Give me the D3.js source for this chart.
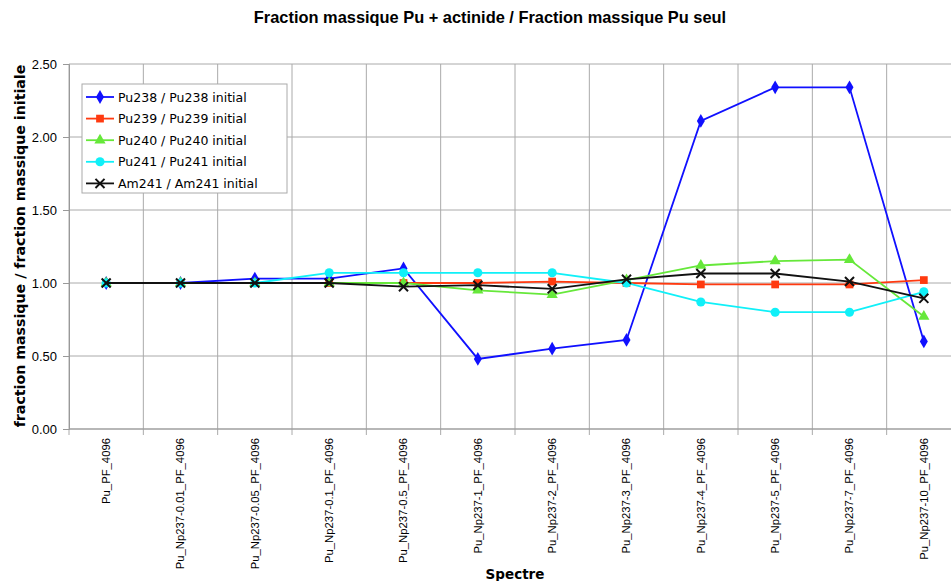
<!DOCTYPE html>
<html><head><meta charset="utf-8">
<script src="https://cdn.jsdelivr.net/npm/d3@7"></script>
<style>body{margin:0;background:#fff}svg{display:block}</style>
</head><body>
<svg id="c" width="951" height="581"></svg>
<script>
const categories = ["Pu_PF_4096","Pu_Np237-0.01_PF_4096","Pu_Np237-0.05_PF_4096","Pu_Np237-0.1_PF_4096","Pu_Np237-0.5_PF_4096","Pu_Np237-1_PF_4096","Pu_Np237-2_PF_4096","Pu_Np237-3_PF_4096","Pu_Np237-4_PF_4096","Pu_Np237-5_PF_4096","Pu_Np237-7_PF_4096","Pu_Np237-10_PF_4096"];
const pu238 = [1.00,1.00,1.03,1.03,1.10,0.48,0.55,0.61,2.11,2.34,2.34,0.60];
const pu239 = [1.00,1.00,1.00,1.00,1.00,1.00,1.01,1.00,0.99,0.99,0.99,1.02];
const pu240 = [1.00,1.00,1.00,1.00,1.00,0.95,0.92,1.02,1.12,1.15,1.16,0.77];
const pu241 = [1.00,1.00,1.00,1.07,1.07,1.07,1.07,1.00,0.87,0.80,0.80,0.94];
const am241 = [1.00,1.00,1.00,1.00,0.975,0.985,0.96,1.025,1.065,1.065,1.01,0.895];
const yTicks = [0,0.5,1,1.5,2,2.5];
const seriesNames = ["Pu238 / Pu238 initial","Pu239 / Pu239 initial","Pu240 / Pu240 initial","Pu241 / Pu241 initial","Am241 / Am241 initial"];

const series = [
  {name:seriesNames[0], values:pu238, color:"#1010ff", sym:d3.symbolDiamond, size:55},
  {name:seriesNames[1], values:pu239, color:"#ff3a10", sym:d3.symbolSquare, size:60},
  {name:seriesNames[2], values:pu240, color:"#66e83a", sym:d3.symbolTriangle, size:55},
  {name:seriesNames[3], values:pu241, color:"#10f0f8", sym:d3.symbolCircle, size:65},
  {name:seriesNames[4], values:am241, color:"#111111", sym:d3.symbolX, size:55}
];

const svg = d3.select("#c");
const L=69, R=961, T=64, B=429;
const x = d3.scaleBand().domain(categories).range([L,R]);
const y = d3.scaleLinear().domain([0,2.5]).range([B,T]);
const cx = d => x(d)+x.bandwidth()/2;

// grid
const g = svg.append("g");
g.selectAll(".hg").data(yTicks).join("line")
  .attr("x1",L).attr("x2",R).attr("y1",d=>y(d)).attr("y2",d=>y(d))
  .attr("stroke","#aaa").attr("stroke-width",1);
const bounds = categories.map(c=>x(c)).concat([R]);
g.selectAll(".vg").data(bounds).join("line")
  .attr("x1",d=>d).attr("x2",d=>d).attr("y1",T).attr("y2",B+6)
  .attr("stroke","#aaa").attr("stroke-width",1);
// axes
const ya = svg.append("g").attr("transform",`translate(${L},0)`)
  .call(d3.axisLeft(y).tickValues(yTicks).tickFormat(d3.format(".2f")).tickSize(6));
ya.select(".domain").attr("stroke","#999");
ya.selectAll(".tick line").attr("stroke","#999");
ya.selectAll("text").attr("font-family","Liberation Sans").attr("font-size",13).attr("fill","#000").attr("x",-12);

svg.append("line").attr("x1",L).attr("x2",R).attr("y1",B).attr("y2",B).attr("stroke","#999");

const xa = svg.append("g").attr("transform",`translate(0,${B})`)
  .call(d3.axisBottom(x).tickSize(0));
xa.select(".domain").remove();
xa.selectAll("text").attr("font-family","Liberation Sans").attr("font-size",11.3).attr("fill","#000")
  .attr("transform","rotate(-90)").attr("text-anchor","end").attr("x",-9).attr("y",0).attr("dy","0.35em");

// series
const line = d3.line().x((d,i)=>cx(categories[i])).y(d=>y(d));
series.forEach(s=>{
  svg.append("path").datum(s.values).attr("d",line).attr("fill","none")
    .attr("stroke",s.color).attr("stroke-width",1.8);
  svg.selectAll(null).data(s.values).join("path")
    .attr("d",d3.symbol().type(s.sym).size(s.size))
    .attr("transform",(d,i)=>`translate(${cx(categories[i])},${y(d)})`)
    .attr("fill",s.sym===d3.symbolX?"none":s.color)
    .attr("stroke",s.sym===d3.symbolX?s.color:"none").attr("stroke-width",2);
});

// legend
const lg = svg.append("g");
lg.append("rect").attr("x",82).attr("y",84).attr("width",205).attr("height",109)
  .attr("fill","#fff").attr("stroke","#aaa");
series.forEach((s,i)=>{
  const yy = 97 + i*21.6;
  lg.append("line").attr("x1",86).attr("x2",114).attr("y1",yy).attr("y2",yy).attr("stroke",s.color).attr("stroke-width",1.8);
  lg.append("path").attr("d",d3.symbol().type(s.sym).size(s.size)).attr("transform",`translate(100,${yy})`)
    .attr("fill",s.sym===d3.symbolX?"none":s.color)
    .attr("stroke",s.sym===d3.symbolX?s.color:"none").attr("stroke-width",2);
  lg.append("text").attr("x",118).attr("y",yy).attr("dy","0.36em")
    .attr("font-family","DejaVu Sans").attr("font-size",12.5).text(s.name);
});

// titles
svg.append("text").attr("x",490).attr("y",23).attr("text-anchor","middle")
  .attr("font-family","Liberation Sans").attr("font-weight","bold").attr("font-size",16.4)
  .text("Fraction massique Pu + actinide / Fraction massique Pu seul");
svg.append("text").attr("transform","translate(25,246) rotate(-90)").attr("text-anchor","middle")
  .attr("font-family","DejaVu Sans").attr("font-weight","bold").attr("font-size",14.2)
  .text("fraction massique / fraction massique initiale");
svg.append("text").attr("x",515).attr("y",579).attr("text-anchor","middle")
  .attr("font-family","DejaVu Sans").attr("font-weight","bold").attr("font-size",13.5)
  .text("Spectre");
</script>
</body></html>
